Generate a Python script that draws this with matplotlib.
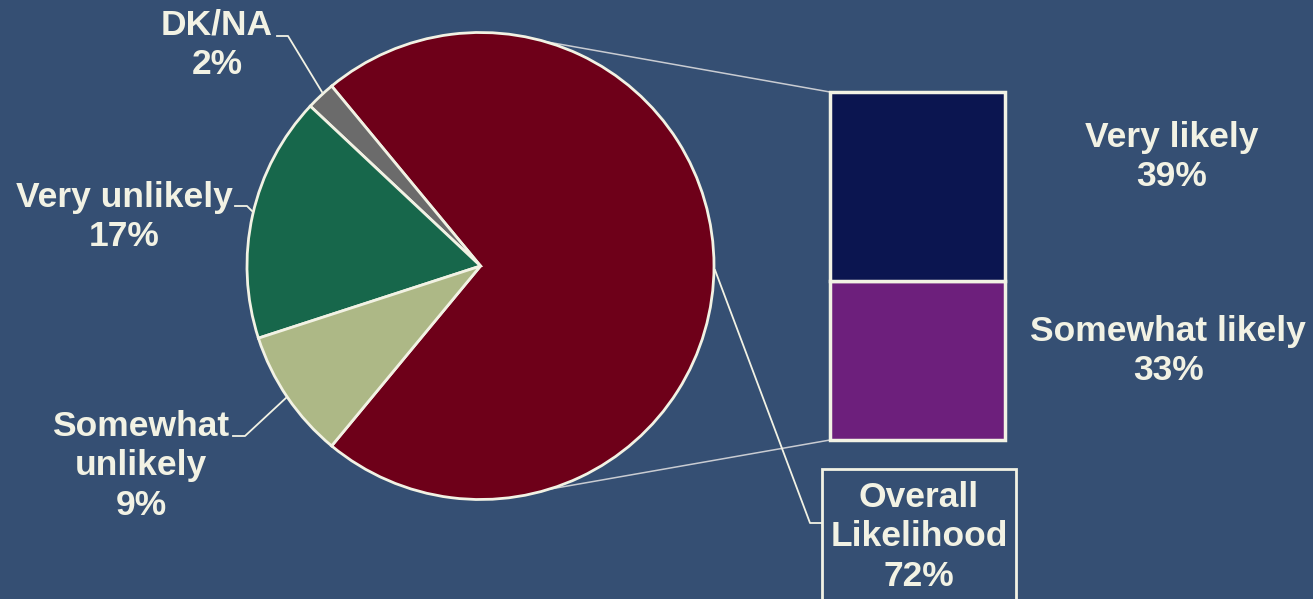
import numpy as np
import matplotlib.pyplot as plt
from matplotlib.patches import Rectangle

# pie: overall likely vs the rest
pie_labels = ["Overall\nLikelihood", "DK/NA", "Very unlikely", "Somewhat\nunlikely"]
pie_values = [72, 2, 17, 9]
pie_colors = ["#6E0019", "#6B6B6B", "#17674B", "#ADB886"]

# bar: breakdown of the 72%
bar_labels = ["Somewhat likely", "Very likely"]
bar_values = [33, 39]
bar_colors = ["#6D1F7C", "#0B1550"]

BG = "#354F73"
CREAM = "#F2F2E4"
W, H = 1313, 599

plt.rcParams['font.family'] = ['Liberation Sans', 'DejaVu Sans']

fig = plt.figure(figsize=(W / 100, H / 100), dpi=100)
fig.patch.set_facecolor(BG)
ax = fig.add_axes([0, 0, 1, 1])
ax.set_facecolor(BG)

cx, cy, r = 480.5, H - 266, 233.5
start = -pie_values[0] * 3.6 / 2  # red slice centred on the right
ax.pie(pie_values, colors=pie_colors, center=(cx, cy), radius=r,
       startangle=start, counterclock=True,
       wedgeprops=dict(edgecolor=CREAM, linewidth=2))

# stacked bar of pie, scaled to px per percent
bx, bw = 917.5, 175
bar_bottom = H - 440
scale = 348 / sum(bar_values)
bottom = bar_bottom
for v, c in zip(bar_values, bar_colors):
    ax.bar(bx, v * scale, width=bw, bottom=bottom, color=c,
           edgecolor=CREAM, linewidth=2.5)
    bottom += v * scale

# connector lines from pie to bar corners
line_c = "#C9CCD2"
for ang, by in [(74, bar_bottom + 348), (-73, bar_bottom)]:
    px = cx + r * np.cos(np.radians(ang))
    py = cy + r * np.sin(np.radians(ang))
    ax.plot([px, bx - bw / 2], [py, by], color=line_c, lw=1.1, zorder=0.5)

txt = dict(color=CREAM, fontsize=25.5, fontweight='bold', ha='center',
           va='center', linespacing=1.24)

# pie labels with leader lines
ax.text(217, H - 45, f"{pie_labels[1]}\n{pie_values[1]}%", **txt)
ax.plot([277, 288, 322], [H - 36, H - 36, H - 92], color=CREAM, lw=1.3)

ax.text(124, H - 217, f"{pie_labels[2]}\n{pie_values[2]}%", **txt)
ax.plot([235, 247, 253], [H - 206, H - 206, H - 212], color=CREAM, lw=1.3)

ax.text(141, H - 466, f"{pie_labels[3]}\n{pie_values[3]}%", **txt)
ax.plot([233, 245, 287], [H - 436, H - 436, H - 397], color=CREAM, lw=1.3)

# overall label in a box
ax.add_patch(Rectangle((822, H - 610), 194, 141, facecolor=BG,
                       edgecolor=CREAM, lw=2, zorder=3))
ax.text(919, H - 537, f"{pie_labels[0]}\n{pie_values[0]}%", zorder=4, **txt)
ax.plot([715, 810, 822], [H - 270, H - 523, H - 523], color=CREAM, lw=1.3)

# bar labels
ax.text(1172, H - 157, f"{bar_labels[1]}\n{bar_values[1]}%", **txt)
ax.text(1168, H - 351, f"{bar_labels[0]}\n{bar_values[0]}%", **txt)

ax.set_xlim(0, W)
ax.set_ylim(0, H)
ax.set_aspect('auto')
ax.axis('off')

fig.savefig("out.png", dpi=100, facecolor=BG)
